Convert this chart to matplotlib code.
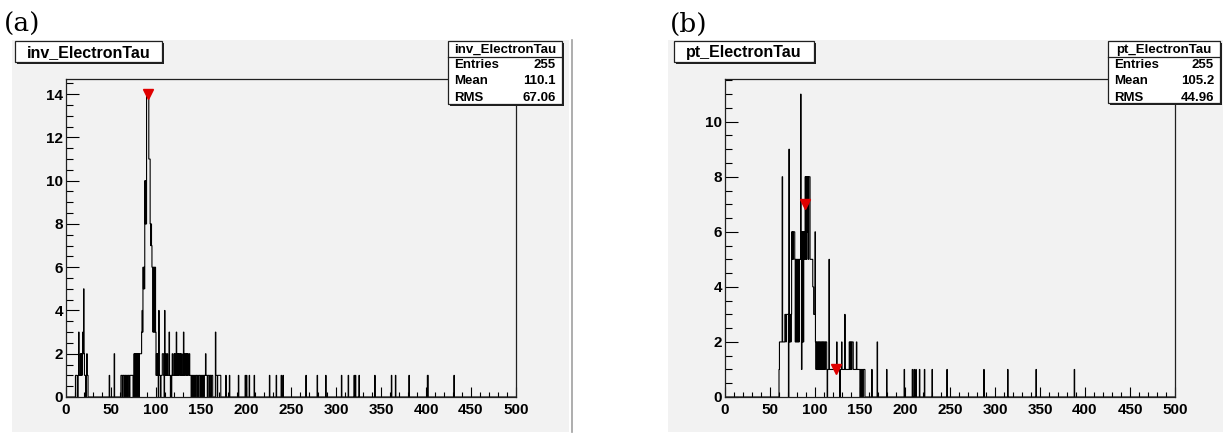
import numpy as np
import matplotlib
matplotlib.use("Agg")
import matplotlib.pyplot as plt
from matplotlib.patches import Rectangle
from matplotlib.lines import Line2D
from matplotlib.ticker import MultipleLocator

W, H = 1223, 434
BIN_W = 0.5
EDGES = np.arange(0, 500 + BIN_W, BIN_W)

# ── histogram contents, as runs of equal-count bins: (lo, hi, count) ─────────
INV_RUNS = [
    (10.5, 12.5, 1), (13.5, 14, 1), (14, 14.5, 3), (14.5, 16, 1),
    (16, 16.5, 2), (16.5, 17, 1), (17, 17.5, 2), (17.5, 18, 1), (18, 18.5, 2),
    (18.5, 19, 3), (19, 19.5, 2), (19.5, 20, 5), (20, 20.5, 2), (20.5, 22, 1),
    (22.5, 23, 1), (23, 23.5, 2), (23.5, 24.5, 1),
    (48, 48.5, 1), (53.5, 54, 2),
    (61, 62.5, 1), (63, 64.5, 1), (65, 66.5, 1), (67, 68.5, 1), (69, 70.5, 1), (71, 74.5, 1),
    (75.5, 76, 2), (76.5, 77, 2), (77.5, 78, 2), (78.5, 79, 2), (79.5, 80, 2),
    (80.5, 81, 2), (81.5, 82, 2), (82, 84, 2),
    (84, 84.5, 3), (84.5, 85, 4), (85, 85.5, 3), (85.5, 86, 6), (86, 86.5, 5),
    (86.5, 87, 6), (87, 87.5, 5),
    (87.5, 88, 10), (88, 88.5, 8), (88.5, 89, 10), (89, 89.5, 8),
    (89.5, 92, 14), (92, 93.5, 11),
    (93.5, 94, 8), (94, 94.5, 7), (94.5, 95, 8), (95, 95.5, 7),
    (95.5, 96.5, 6), (96.5, 97, 3), (97, 97.5, 6), (97.5, 98, 3), (98, 98.5, 6),
    (98.5, 99, 3), (99, 99.5, 6), (99.5, 100, 3),
    (100, 100.5, 1), (100.5, 101, 2), (101, 101.5, 1), (101.5, 102, 2), (102, 102.5, 1),
    (103, 103.5, 4), (103.5, 105, 1),
    (105.5, 107, 1), (107, 108.5, 2), (108.5, 109, 1),
    (109.5, 110, 4), (110, 111, 1), (111, 111.5, 2), (111.5, 112.5, 1), (112.5, 113, 2),
    (113, 114.5, 1), (114.5, 115, 3), (115, 115.5, 1),
    (115.5, 116, 1), (116.5, 117, 1), (117.5, 118, 1), (118, 118.5, 2), (118.5, 120, 1),
    (120, 120.5, 2), (120.5, 121, 1), (121, 121.5, 2), (121.5, 122.5, 1),
    (122.5, 123, 3), (123, 123.5, 1), (123.5, 124, 2), (124, 124.5, 1), (124.5, 125, 2),
    (125, 125.5, 1), (125.5, 126.5, 2), (126.5, 127, 1), (127, 127.5, 2), (127.5, 128.5, 1),
    (128.5, 129, 2), (129, 130.5, 1),
    (130.5, 131, 3), (131, 131.5, 1), (131.5, 132, 2), (132, 132.5, 1), (132.5, 133.5, 2),
    (133.5, 134, 1), (134, 134.5, 2), (134.5, 135, 1), (135, 136, 2), (136, 137, 1),
    (137, 137.5, 2), (137.5, 139, 1),
    (139.5, 140, 1), (140.5, 141, 1), (141.5, 142, 1), (142.5, 143, 1), (143.5, 144, 1),
    (144.5, 146, 1), (146.5, 147, 1), (147.5, 149, 1), (149.5, 150, 1), (150.5, 151, 1),
    (151.5, 153, 1), (153.5, 155, 1),
    (155, 155.5, 2), (155.5, 157, 1), (157.5, 159, 1), (159.5, 161, 1), (161.5, 163, 1),
    (166, 166.5, 3), (166.5, 168, 1), (168.5, 172, 1),
    (177.5, 178, 1), (181.5, 182, 1), (191.5, 192, 1), (199, 199.5, 1), (200.5, 201, 1),
    (203.5, 204, 1), (209, 209.5, 1),
    (226, 226.5, 1), (233.5, 234, 1), (239, 239.5, 1), (241, 241.5, 1), (266.5, 267, 1),
    (279, 279.5, 1), (288.5, 289, 1), (306, 306.5, 1), (313.5, 314, 1), (320, 320.5, 1),
    (321.5, 322, 1), (325.5, 326, 1), (343, 343.5, 1), (361.5, 362, 1), (366, 366.5, 1),
    (381, 381.5, 1), (401.5, 402.5, 1), (431, 431.5, 1),
]

PT_RUNS = [
    (60, 60.5, 1), (60.5, 63.5, 2), (63.5, 64, 8), (64, 66.5, 2), (66.5, 67.5, 3),
    (67.5, 68, 2), (68, 70.5, 3),
    (71, 71.5, 9), (71.5, 72.5, 2), (72.5, 73, 3), (73, 73.5, 2), (73.5, 74, 3),
    (74, 74.5, 6), (74.5, 75, 5), (75, 75.5, 6), (75.5, 76, 5), (76, 77.5, 6),
    (77.5, 78, 5), (78, 78.5, 2), (78.5, 79, 5), (79, 79.5, 2), (79.5, 80, 5),
    (80, 80.5, 2), (80.5, 81, 5), (81, 81.5, 2), (81.5, 82, 5), (82, 82.5, 2), (82.5, 84, 5),
    (84, 84.5, 11), (84.5, 85, 5), (85, 85.5, 1),
    (85.5, 86, 6), (86, 86.5, 2), (86.5, 87, 6), (87, 87.5, 2), (87.5, 88, 6),
    (88, 88.5, 5), (88.5, 89, 6),
    (89, 89.5, 8), (89.5, 90, 5), (90, 90.5, 8), (90.5, 91, 5), (91, 91.5, 8),
    (91.5, 92, 6), (92, 92.5, 8), (92.5, 93, 5), (93, 94.5, 8),
    (94.5, 97.5, 5), (97.5, 98.5, 4), (98.5, 100, 3), (100, 100.5, 6),
    (100.5, 101, 2), (101, 101.5, 1), (101.5, 102, 2), (102, 102.5, 1), (102.5, 103.5, 2),
    (103.5, 104, 1), (104, 105, 2), (105, 105.5, 1), (105.5, 106.5, 2), (106.5, 107, 1),
    (107, 108, 2), (108, 108.5, 1), (108.5, 109.5, 2), (109.5, 110, 1), (110, 111, 2),
    (111, 111.5, 1), (111.5, 113, 2),
    (113, 113.5, 1), (114, 115.5, 1), (115.5, 116, 5), (116, 124, 1), (124, 124.5, 2),
    (124.5, 127.5, 1), (128, 129.5, 1), (129.5, 130, 2), (130, 133, 1), (133, 133.5, 3),
    (133.5, 138, 1),
    (138, 138.5, 2), (138.5, 139, 1), (139, 139.5, 2), (139.5, 140, 1), (140, 140.5, 2),
    (140.5, 141, 1), (141, 142.5, 2), (142.5, 146, 1),
    (146, 146.5, 2), (146.5, 150, 1), (150.5, 151, 1), (151.5, 152, 1), (152.5, 153, 1),
    (153.5, 155.5, 1),
    (163, 163.5, 1), (169, 169.5, 2), (179.5, 180, 1), (199, 199.5, 1), (208, 208.5, 1),
    (210, 210.5, 1), (212, 212.5, 1), (216, 216.5, 1), (221.5, 222, 1), (230, 230.5, 1),
    (246.5, 247, 1), (287.5, 288, 1), (314, 314.5, 1), (345.5, 346, 1), (388, 388.5, 1),
]

# peak markers (red triangles)
INV_PEAK_X = [91.0]
INV_PEAK_Y = [14.0]
PT_PEAK_X = [88.5, 123.0]
PT_PEAK_Y = [7.0, 1.0]

STAT_LABELS = ["Entries", "Mean", "RMS"]
INV_STATS = ["255", "110.1", "67.06"]
PT_STATS = ["255", "105.2", "44.96"]

CANVAS_GREY = "#f2f2f2"
SANS = "Liberation Sans"


def fill_bins(runs):
    counts = np.zeros(len(EDGES) - 1)
    for lo, hi, n in runs:
        counts[int(round(lo / BIN_W)):int(round(hi / BIN_W))] = n
    return counts


def fig_rect(x0, y0, x1, y1):
    # pixel box (top-left origin) -> figure fraction [l, b, w, h]
    return [x0 / W, 1 - y1 / H, (x1 - x0) / W, (y1 - y0) / H]


def box(fig, x0, y0, x1, y1, shadow=2):
    fig.add_artist(Rectangle((x0 / W + shadow / W, 1 - y1 / H - shadow / H),
                             (x1 - x0) / W, (y1 - y0) / H,
                             transform=fig.transFigure, facecolor="#202020",
                             edgecolor="none", zorder=20))
    fig.add_artist(Rectangle((x0 / W, 1 - y1 / H), (x1 - x0) / W, (y1 - y0) / H,
                             transform=fig.transFigure, facecolor="white",
                             edgecolor="#202020", linewidth=0.9, zorder=21))


def ftext(fig, x, y, s, **kw):
    kw.setdefault("family", SANS)
    kw.setdefault("fontweight", "bold")
    fig.text(x / W, 1 - y / H, s, zorder=22, **kw)


def draw_panel(fig, canvas, frame, runs, px, py, title, title_box, stat_box, stats, tag, tag_xy):
    counts = fill_bins(runs)
    cx0, cy0, cx1, cy1 = canvas
    fig.add_artist(Rectangle((cx0 / W, 1 - cy1 / H), (cx1 - cx0) / W, (cy1 - cy0) / H,
                             transform=fig.transFigure, facecolor=CANVAS_GREY,
                             edgecolor="none", zorder=0))

    ax = fig.add_axes(fig_rect(*frame))
    ax.set_facecolor(CANVAS_GREY)
    ax.stairs(counts, EDGES, color="black", linewidth=0.8, baseline=0)
    ax.plot(px, py, linestyle="none", marker="v", color="#e00000",
            markersize=6.5, zorder=5)
    ax.set_xlim(0, 500)
    ax.set_ylim(0, counts.max() * 1.05)
    ax.xaxis.set_major_locator(MultipleLocator(50))
    ax.xaxis.set_minor_locator(MultipleLocator(10))
    ax.yaxis.set_major_locator(MultipleLocator(2))
    ax.yaxis.set_minor_locator(MultipleLocator(0.5))
    ax.tick_params(which="both", direction="in", top=False, right=False,
                   width=0.8, color="black")
    # ROOT tick length scales with the perpendicular axis size
    ax.tick_params(axis="x", which="major", length=6.9, pad=4, labelsize=11)
    ax.tick_params(axis="x", which="minor", length=3.4)
    ax.tick_params(axis="y", which="major", length=9.7, pad=2, labelsize=11)
    ax.tick_params(axis="y", which="minor", length=4.9)
    for lbl in ax.get_xticklabels() + ax.get_yticklabels():
        lbl.set_family(SANS)
        lbl.set_fontweight("bold")
    for sp in ax.spines.values():
        sp.set_linewidth(0.9)
        sp.set_color("#202020")

    # title box
    box(fig, *title_box)
    tx0, ty0, tx1, ty1 = title_box
    ftext(fig, (tx0 + tx1) / 2, (ty0 + ty1) / 2 + 1, title, fontsize=11.5,
          ha="center", va="center")

    # stats box
    box(fig, *stat_box)
    sx0, sy0, sx1, sy1 = stat_box
    sep = sy0 + 16
    fig.add_artist(Line2D([sx0 / W, sx1 / W], [1 - sep / H, 1 - sep / H],
                          transform=fig.transFigure, color="#202020",
                          linewidth=0.9, zorder=22))
    ftext(fig, (sx0 + sx1) / 2, sy0 + 8.5, title, fontsize=9.5, ha="center", va="center")
    for i, (lab, val) in enumerate(zip(STAT_LABELS, stats)):
        yy = sep + 8 + i * 16.3
        ftext(fig, sx0 + 6, yy, lab, fontsize=9.5, ha="left", va="center")
        ftext(fig, sx1 - 6, yy, val, fontsize=9.5, ha="right", va="center")

    fig.text(tag_xy[0] / W, 1 - tag_xy[1] / H, tag, family="DejaVu Serif",
             fontsize=19, ha="left", va="baseline")
    return ax


fig = plt.figure(figsize=(W / 100, H / 100), dpi=100)

draw_panel(fig, (12, 40, 569, 432), (66, 79, 516, 397), INV_RUNS,
           INV_PEAK_X, INV_PEAK_Y, "inv_ElectronTau",
           (15, 41, 162, 62), (448, 41, 562, 104), INV_STATS, "(a)", (4, 32))
draw_panel(fig, (668, 40, 1223, 432), (725, 79, 1175, 397), PT_RUNS,
           PT_PEAK_X, PT_PEAK_Y, "pt_ElectronTau",
           (674, 41, 814, 62), (1108, 41, 1220, 103), PT_STATS, "(b)", (670, 32))

# thin edge at the right of the first canvas
fig.add_artist(Line2D([572 / W, 572 / W], [1 - 40 / H, 1 - 432 / H],
                      transform=fig.transFigure, color="#a0a0a0", linewidth=1.2))

fig.savefig("out.png", dpi=100)
